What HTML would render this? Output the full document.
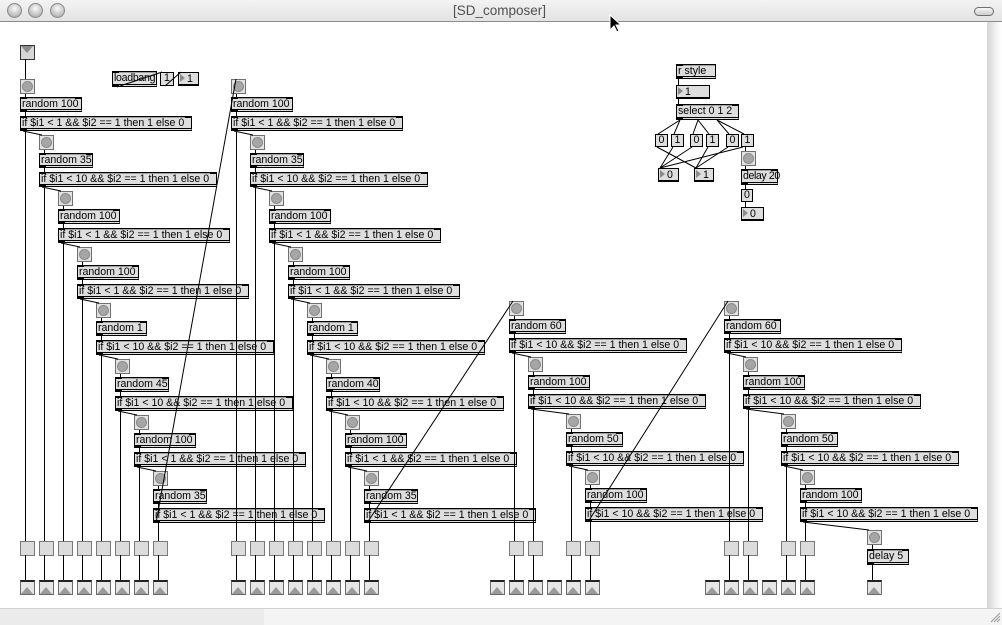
<!DOCTYPE html>
<html><head><meta charset="utf-8">
<style>
*{margin:0;padding:0}
body{width:1002px;height:624px;overflow:hidden;background:#fff;position:relative;font-family:"Liberation Sans",sans-serif;color:#000}
#tb{position:absolute;left:0;top:0;width:1002px;height:21px;background:linear-gradient(#f3f3f3,#e3e3e3);border-bottom:1px solid #8c8c8c}
.tl{position:absolute;top:3px;width:15px;height:15px;box-sizing:border-box;border-radius:50%;border:1px solid #8a8a8a;background:radial-gradient(circle at 50% 35%,#fafafa,#c4c4c4 60%,#9c9c9c)}
#title{position:absolute;left:453px;top:3px;font-size:13.5px;line-height:15px;color:#505050}
#pill{position:absolute;left:974px;top:7px;width:20px;height:9px;box-sizing:border-box;border-radius:5px;border:1px solid #6e6e6e;background:linear-gradient(#f6f6f6,#cdcdcd)}
#rs{position:absolute;left:987px;top:22px;width:15px;height:587px;background:linear-gradient(to right,#d4d4d4,#f2f2f2 60%,#fff)}
#bb{position:absolute;left:0;top:608px;width:1002px;height:16px;border-top:1px solid #d2d2d2;background:linear-gradient(to right,#ebebeb 264px,#f4f4f4 264px)}
.o{position:absolute;box-sizing:border-box;height:15px;background:#dedede;border:1px solid #000;border-bottom:3px double #000;box-shadow:inset 0 1px 0 #a0a0a0;font-size:10.6px;line-height:12.5px;padding-left:1px;white-space:nowrap}
.o::before{content:"";position:absolute;left:-1px;top:-1px;width:7px;height:2px;background:#000}
.o::after{content:"";position:absolute;left:-1px;bottom:-3px;width:7px;height:3px;background:#000}
.o i{position:absolute;right:-1px;top:-1px;width:7px;height:2px;background:#000}
.b{position:absolute;box-sizing:border-box;width:15px;height:15px;background:#e2e2e2;border:1px solid #707070}
.b::after{content:"";position:absolute;left:1px;top:1px;width:9px;height:9px;border-radius:50%;background:#a6a6a6;border:1px solid #8a8a8a}
.q{position:absolute;box-sizing:border-box;width:15px;height:15px;top:541px;background:#dcdcdc;border:1px solid #7a7a7a}
.t{position:absolute;box-sizing:border-box;width:15px;height:15px;top:580px;background:#e6e6e6;border:1px solid #6a6a6a;border-top:2px solid #222}
.t::after{content:"";position:absolute;left:0;bottom:0;border-left:6.5px solid transparent;border-right:6.5px solid transparent;border-bottom:7px solid #9a9a9a}
.n{position:absolute;box-sizing:border-box;height:14px;background:#dedede;border:1px solid #000;border-bottom-width:2px;padding-left:8px;font-size:10.6px;line-height:12px;white-space:nowrap}
.n::before{content:"";position:absolute;left:1px;top:1px;border-left:5px solid #8a8a8a;border-top:4px solid transparent;border-bottom:4px solid transparent}
.m{position:absolute;box-sizing:border-box;height:13px;background:#dedede;border:1px solid #000;text-align:center;font-size:10.6px;line-height:11.5px}
.g{position:absolute;left:20px;top:45px;width:15px;height:15px;box-sizing:border-box;background:#d6d6d6;border:1px solid #333}
.g::after{content:"";position:absolute;left:0;top:0;border-left:6.5px solid transparent;border-right:6.5px solid transparent;border-top:7px solid #8c8c8c}
svg{position:absolute;left:0;top:0}
</style></head><body>
<div id="tb"></div>
<div class="tl" style="left:7px"></div>
<div class="tl" style="left:28px"></div>
<div class="tl" style="left:50px"></div>
<div id="title">[SD_composer]</div>
<div id="pill"></div>
<div id="rs"></div>
<div id="bb"></div>

<div class="g"></div>
<div class="o" style="left:112px;top:71px;width:45px;height:16px;letter-spacing:-0.3px">loadbang</div>
<div class="m" style="left:160px;top:72px;width:14px;height:14px">1</div>
<div class="n" style="left:178px;top:72px;width:21px">1</div>

<!-- Cascade A -->
<div class="b" style="left:20px;top:79px"></div>
<div class="o" style="left:20px;top:97px;width:62px">random 100<i></i></div>
<div class="o" style="left:20px;top:116px;width:172px">if $i1 &lt; 1 &amp;&amp; $i2 == 1 then 1 else 0<i></i></div>
<div class="b" style="left:39px;top:135px"></div>
<div class="o" style="left:39px;top:153px;width:54px">random 35<i></i></div>
<div class="o" style="left:39px;top:172px;width:178px">if $i1 &lt; 10 &amp;&amp; $i2 == 1 then 1 else 0<i></i></div>
<div class="b" style="left:58px;top:191px"></div>
<div class="o" style="left:58px;top:209px;width:62px">random 100<i></i></div>
<div class="o" style="left:58px;top:228px;width:172px">if $i1 &lt; 1 &amp;&amp; $i2 == 1 then 1 else 0<i></i></div>
<div class="b" style="left:77px;top:247px"></div>
<div class="o" style="left:77px;top:265px;width:62px">random 100<i></i></div>
<div class="o" style="left:77px;top:284px;width:172px">if $i1 &lt; 1 &amp;&amp; $i2 == 1 then 1 else 0<i></i></div>
<div class="b" style="left:96px;top:303px"></div>
<div class="o" style="left:96px;top:321px;width:51px">random 1<i></i></div>
<div class="o" style="left:96px;top:340px;width:178px">if $i1 &lt; 10 &amp;&amp; $i2 == 1 then 1 else 0<i></i></div>
<div class="b" style="left:115px;top:359px"></div>
<div class="o" style="left:115px;top:377px;width:54px">random 45<i></i></div>
<div class="o" style="left:115px;top:396px;width:178px">if $i1 &lt; 10 &amp;&amp; $i2 == 1 then 1 else 0<i></i></div>
<div class="b" style="left:134px;top:415px"></div>
<div class="o" style="left:134px;top:433px;width:62px">random 100<i></i></div>
<div class="o" style="left:134px;top:452px;width:172px">if $i1 &lt; 1 &amp;&amp; $i2 == 1 then 1 else 0<i></i></div>
<div class="b" style="left:153px;top:471px"></div>
<div class="o" style="left:153px;top:489px;width:54px">random 35<i></i></div>
<div class="o" style="left:153px;top:508px;width:172px">if $i1 &lt; 1 &amp;&amp; $i2 == 1 then 1 else 0<i></i></div>

<!-- Cascade B -->
<div class="b" style="left:231px;top:79px"></div>
<div class="o" style="left:231px;top:97px;width:62px">random 100<i></i></div>
<div class="o" style="left:231px;top:116px;width:172px">if $i1 &lt; 1 &amp;&amp; $i2 == 1 then 1 else 0<i></i></div>
<div class="b" style="left:250px;top:135px"></div>
<div class="o" style="left:250px;top:153px;width:54px">random 35<i></i></div>
<div class="o" style="left:250px;top:172px;width:178px">if $i1 &lt; 10 &amp;&amp; $i2 == 1 then 1 else 0<i></i></div>
<div class="b" style="left:269px;top:191px"></div>
<div class="o" style="left:269px;top:209px;width:62px">random 100<i></i></div>
<div class="o" style="left:269px;top:228px;width:172px">if $i1 &lt; 1 &amp;&amp; $i2 == 1 then 1 else 0<i></i></div>
<div class="b" style="left:288px;top:247px"></div>
<div class="o" style="left:288px;top:265px;width:62px">random 100<i></i></div>
<div class="o" style="left:288px;top:284px;width:172px">if $i1 &lt; 1 &amp;&amp; $i2 == 1 then 1 else 0<i></i></div>
<div class="b" style="left:307px;top:303px"></div>
<div class="o" style="left:307px;top:321px;width:51px">random 1<i></i></div>
<div class="o" style="left:307px;top:340px;width:178px">if $i1 &lt; 10 &amp;&amp; $i2 == 1 then 1 else 0<i></i></div>
<div class="b" style="left:326px;top:359px"></div>
<div class="o" style="left:326px;top:377px;width:54px">random 40<i></i></div>
<div class="o" style="left:326px;top:396px;width:178px">if $i1 &lt; 10 &amp;&amp; $i2 == 1 then 1 else 0<i></i></div>
<div class="b" style="left:345px;top:415px"></div>
<div class="o" style="left:345px;top:433px;width:62px">random 100<i></i></div>
<div class="o" style="left:345px;top:452px;width:172px">if $i1 &lt; 1 &amp;&amp; $i2 == 1 then 1 else 0<i></i></div>
<div class="b" style="left:364px;top:471px"></div>
<div class="o" style="left:364px;top:489px;width:54px">random 35<i></i></div>
<div class="o" style="left:364px;top:508px;width:172px">if $i1 &lt; 1 &amp;&amp; $i2 == 1 then 1 else 0<i></i></div>

<!-- Cascade C -->
<div class="b" style="left:509px;top:301px"></div>
<div class="o" style="left:509px;top:319px;width:57px">random 60<i></i></div>
<div class="o" style="left:509px;top:338px;width:178px">if $i1 &lt; 10 &amp;&amp; $i2 == 1 then 1 else 0<i></i></div>
<div class="b" style="left:528px;top:357px"></div>
<div class="o" style="left:528px;top:375px;width:62px">random 100<i></i></div>
<div class="o" style="left:528px;top:394px;width:178px">if $i1 &lt; 10 &amp;&amp; $i2 == 1 then 1 else 0<i></i></div>
<div class="b" style="left:566px;top:414px"></div>
<div class="o" style="left:566px;top:432px;width:57px">random 50<i></i></div>
<div class="o" style="left:566px;top:451px;width:178px">if $i1 &lt; 10 &amp;&amp; $i2 == 1 then 1 else 0<i></i></div>
<div class="b" style="left:585px;top:470px"></div>
<div class="o" style="left:585px;top:488px;width:62px">random 100<i></i></div>
<div class="o" style="left:585px;top:507px;width:178px">if $i1 &lt; 10 &amp;&amp; $i2 == 1 then 1 else 0<i></i></div>

<!-- Cascade D -->
<div class="b" style="left:724px;top:301px"></div>
<div class="o" style="left:724px;top:319px;width:57px">random 60<i></i></div>
<div class="o" style="left:724px;top:338px;width:178px">if $i1 &lt; 10 &amp;&amp; $i2 == 1 then 1 else 0<i></i></div>
<div class="b" style="left:743px;top:357px"></div>
<div class="o" style="left:743px;top:375px;width:62px">random 100<i></i></div>
<div class="o" style="left:743px;top:394px;width:178px">if $i1 &lt; 10 &amp;&amp; $i2 == 1 then 1 else 0<i></i></div>
<div class="b" style="left:781px;top:414px"></div>
<div class="o" style="left:781px;top:432px;width:57px">random 50<i></i></div>
<div class="o" style="left:781px;top:451px;width:178px">if $i1 &lt; 10 &amp;&amp; $i2 == 1 then 1 else 0<i></i></div>
<div class="b" style="left:800px;top:470px"></div>
<div class="o" style="left:800px;top:488px;width:62px">random 100<i></i></div>
<div class="o" style="left:800px;top:507px;width:178px">if $i1 &lt; 10 &amp;&amp; $i2 == 1 then 1 else 0<i></i></div>
<div class="b" style="left:867px;top:530px"></div>
<div class="o" style="left:867px;top:549px;width:42px;height:16px">delay 5<i></i></div>

<!-- top right group -->
<div class="o" style="left:676px;top:64px;width:40px">r style</div>
<div class="n" style="left:676px;top:85px;width:34px">1</div>
<div class="o" style="left:676px;top:104px;width:63px;height:16px">select 0 1 2<i></i></div>
<div class="m" style="left:655px;top:134px;width:13px">0</div>
<div class="m" style="left:671px;top:134px;width:13px">1</div>
<div class="m" style="left:690px;top:134px;width:13px">0</div>
<div class="m" style="left:706px;top:134px;width:13px">1</div>
<div class="m" style="left:726px;top:134px;width:13px">0</div>
<div class="m" style="left:741px;top:134px;width:13px">1</div>
<div class="n" style="left:658px;top:168px;width:21px">0</div>
<div class="n" style="left:694px;top:168px;width:20px">1</div>
<div class="b" style="left:741px;top:151px"></div>
<div class="o" style="left:741px;top:169px;width:37px;height:16px;letter-spacing:-0.4px">delay 20<i></i></div>
<div class="m" style="left:741px;top:189px;width:12px">0</div>
<div class="n" style="left:741px;top:207px;width:23px">0</div>

<!-- output boxes -->
<div class="q" style="left:20px"></div><div class="q" style="left:39px"></div><div class="q" style="left:58px"></div><div class="q" style="left:77px"></div><div class="q" style="left:96px"></div><div class="q" style="left:115px"></div><div class="q" style="left:134px"></div><div class="q" style="left:153px"></div>
<div class="q" style="left:231px"></div><div class="q" style="left:250px"></div><div class="q" style="left:269px"></div><div class="q" style="left:288px"></div><div class="q" style="left:307px"></div><div class="q" style="left:326px"></div><div class="q" style="left:345px"></div><div class="q" style="left:364px"></div>
<div class="q" style="left:509px"></div><div class="q" style="left:528px"></div><div class="q" style="left:566px"></div><div class="q" style="left:585px"></div>
<div class="q" style="left:724px"></div><div class="q" style="left:743px"></div><div class="q" style="left:781px"></div><div class="q" style="left:800px"></div>

<!-- triangle buttons -->
<div class="t" style="left:20px"></div><div class="t" style="left:39px"></div><div class="t" style="left:58px"></div><div class="t" style="left:77px"></div><div class="t" style="left:96px"></div><div class="t" style="left:115px"></div><div class="t" style="left:134px"></div><div class="t" style="left:153px"></div>
<div class="t" style="left:231px"></div><div class="t" style="left:250px"></div><div class="t" style="left:269px"></div><div class="t" style="left:288px"></div><div class="t" style="left:307px"></div><div class="t" style="left:326px"></div><div class="t" style="left:345px"></div><div class="t" style="left:364px"></div>
<div class="t" style="left:490px"></div><div class="t" style="left:509px"></div><div class="t" style="left:528px"></div><div class="t" style="left:547px"></div><div class="t" style="left:566px"></div><div class="t" style="left:585px"></div>
<div class="t" style="left:705px"></div><div class="t" style="left:724px"></div><div class="t" style="left:743px"></div><div class="t" style="left:762px"></div><div class="t" style="left:781px"></div><div class="t" style="left:800px"></div>
<div class="t" style="left:867px"></div>

<svg width="1002" height="624" viewBox="0 0 1002 624">
<g fill="none" stroke="#000" stroke-width="1">
<path d="M25.5 59V79M117 87L162 72M165 86L181 72"/>
<path d="M25.5 94V97M25.5 112V116M25.5 131V541M25.5 555V580M23 131L42 135
M44.5 150V153M44.5 168V172M44.5 187V541M44.5 555V580M42 187L61 191
M63.5 206V209M63.5 224V228M63.5 243V541M63.5 555V580M61 243L80 247
M82.5 262V265M82.5 280V284M82.5 299V541M82.5 555V580M80 299L99 303
M101.5 318V321M101.5 336V340M101.5 355V541M101.5 555V580M99 355L118 359
M120.5 374V377M120.5 392V396M120.5 411V541M120.5 555V580M118 411L137 415
M139.5 430V433M139.5 448V452M139.5 467V541M139.5 555V580M137 467L156 471
M158.5 486V489M158.5 504V508M158.5 523V541M158.5 555V580M156 523L236 79"/>
<path d="M236.5 94V97M236.5 112V116M236.5 131V541M236.5 555V580M234 131L253 135
M255.5 150V153M255.5 168V172M255.5 187V541M255.5 555V580M253 187L272 191
M274.5 206V209M274.5 224V228M274.5 243V541M274.5 555V580M272 243L291 247
M293.5 262V265M293.5 280V284M293.5 299V541M293.5 555V580M291 299L310 303
M312.5 318V321M312.5 336V340M312.5 355V541M312.5 555V580M310 355L329 359
M331.5 374V377M331.5 392V396M331.5 411V541M331.5 555V580M329 411L348 415
M350.5 430V433M350.5 448V452M350.5 467V541M350.5 555V580M348 467L367 471
M369.5 486V489M369.5 504V508M369.5 523V541M369.5 555V580M367 523L513 301"/>
<path d="M514.5 316V319M514.5 334V338M514.5 353V541M514.5 555V580M512 353L531 357
M533.5 372V375M533.5 390V394M533.5 409V541M533.5 555V580M531 409L569 414
M571.5 429V432M571.5 447V451M571.5 466V541M571.5 555V580M569 466L588 470
M590.5 485V488M590.5 503V507M590.5 522V541M590.5 555V580M588 522L728 301"/>
<path d="M729.5 316V319M729.5 334V338M729.5 353V541M729.5 555V580M727 353L746 357
M748.5 372V375M748.5 390V394M748.5 409V541M748.5 555V580M746 409L784 414
M786.5 429V432M786.5 447V451M786.5 466V541M786.5 555V580M784 466L803 470
M805.5 485V488M805.5 503V507M805.5 522V541M805.5 555V580M803 522L869 530
M872.5 545V549M872.5 565V580"/>
<path d="M678.5 79V85M678.5 99V104
M680 120L658 134M680 120L674 134M698 120L693 134M698 120L709 134M717 120L729 134M717 120L744 134
M657 147L696 168M673 147L660 168M692 147L660 168M708 147L696 168M728 147L696 168M743 147L660 168
M745.5 147V151M745.5 166V169M745.5 185V189M745.5 202V207"/>
</g>
<g stroke="#9a9a9a" stroke-width="1">
<path d="M991 622L1000 613M994 622L1000 616M997 622L1000 619"/>
</g>
<polygon points="610,15 610,30 614,26 617,32 619,31 616,25 621,25" fill="#000" stroke="#fff" stroke-width="1"/>
</svg>
</body></html>
